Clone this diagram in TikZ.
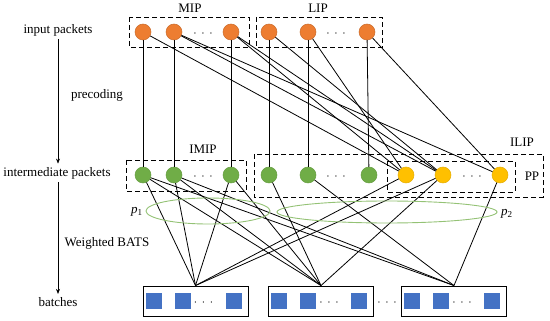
\documentclass[tikz,border=0pt]{standalone}
\usepackage{fontspec}
\setmainfont{Liberation Serif}
\usetikzlibrary{arrows.meta, positioning, calc}
\definecolor{PktOrange}{HTML}{ED7D31}
\definecolor{PktGreen}{HTML}{70AD47}
\definecolor{PktYellow}{HTML}{FFC000}
\definecolor{PktBlue}{HTML}{4472C4}
\tikzset{
  pkt/.style={circle, minimum size=16pt, inner sep=0pt, line width=0.5pt},
  inpkt/.style={pkt, fill=PktOrange, draw=PktOrange!85!black},
  midpkt/.style={pkt, fill=PktGreen, draw=PktGreen!90!black},
  parpkt/.style={pkt, fill=PktYellow, draw=PktYellow!90!black},
  symbox/.style={rectangle, minimum size=16pt, inner sep=0pt, fill=PktBlue},
  grpbox/.style={draw, dash pattern=on 5pt off 3pt, line width=0.9pt},
  batchbox/.style={draw, line width=0.9pt, minimum width=105pt, minimum height=30pt, inner sep=0pt},
  lbl/.style={font=\fontsize{13}{15}\selectfont},
  link/.style={line width=0.8pt},
  ring/.style={PktGreen!75, line width=0.9pt},
}
\newcommand{\pktdots}{$\cdot\,\cdot\,\cdot$}

\begin{document}
\begin{tikzpicture}[x=1pt, y=-1pt]
\useasboundingbox (0,0) rectangle (550,321);
% --- Left column ---
\node[lbl] (inp) at (58,30) {input packets};
\node[lbl] (intp) at (57,173) {intermediate packets};
\node[lbl] (bat) at (58,302) {batches};
\node[lbl] (pre) at (97,95) {precoding};
\node[lbl] (wbats) at (107,243) {Weighted BATS};
\draw[-{Stealth[length=5pt, width=4pt]}, line width=0.6pt] (inp.south) -- (inp.south |- intp.north);
\draw[-{Stealth[length=5pt, width=4pt]}, line width=0.6pt] (inp.south |- intp.south) -- (inp.south |- bat.north);
% --- Group boxes ---
\draw[grpbox] (129,17) rectangle (249,47);
\draw[grpbox] (256,17) rectangle (382,47);
\draw[grpbox] (126,160) rectangle (246,191);
\draw[grpbox] (254,154) rectangle (543,197);
\draw[grpbox] (387,161) rectangle (515,192);
\node[lbl] (mip) at (190,8) {MIP};
\node[lbl] (lip) at (318,8) {LIP};
\node[lbl] (imip) at (203,149) {IMIP};
\node[lbl] (ilip) at (522,142) {ILIP};
\node[lbl] (pp) at (532,176) {PP};
% --- Packets ---
\foreach \n/\x in {m1/143, m2/174, m3/231, l1/269, l2/308, l3/367}
  \node[inpkt] (\n) at (\x,32) {};
\foreach \n/\x in {g1/143, g2/174, g3/231, g4/269, g5/308, g6/369}
  \node[midpkt] (\n) at (\x,175) {};
\foreach \n/\x in {y1/406, y2/443, y3/500}
  \node[parpkt] (\n) at (\x,175) {};
\foreach \n/\x/\y in {dm/203/34, dl/336/34, dg/203/177, dh/336/177, dy/472/177}
  \node[lbl] (\n) at (\x,\y) {\pktdots};
% --- Batches ---
\foreach \n/\x in {b1/195.5, b2/321, b3/454} {
  \node[batchbox] (\n) at (\x,301) {};
  \foreach \dx in {-42, -13, 38}
    \node[symbox] at ($(\n.center)+(\dx,0)$) {};
  \node[lbl] at ($(\n.center)+(8,2)$) {\pktdots};
}
\node[lbl] (db) at (387,303) {\pktdots};
% --- Precoding links ---
\foreach \a/\b in {m1/g1, m2/g2, m3/g3, l1/g4, l2/g5, l3/g6,
                   m1/y1, m2/y2, m2/y3, m3/y1, m3/y2, l1/y2, l2/y1, l3/y3}
  \draw[link] (\a) -- (\b);
% --- Weighted BATS links ---
\foreach \a/\b in {g1/b1, g2/b1, g3/b1, y1/b1, y2/b1,
                   g1/b2, g2/b2, g3/b2, g4/b2, y2/b2,
                   g1/b3, g2/b3, g5/b3, y3/b3}
  \draw[link] (\a) -- (\b.north);
% --- Degree distributions ---
\draw[ring] (208,211) ellipse [x radius=62pt, y radius=13pt];
\draw[ring] (387,212) ellipse [x radius=110pt, y radius=11pt];
\node[lbl] (p1) at (137,212) {\textit{p}\textsubscript{1}};
\node[lbl] (p2) at (507,214) {\textit{p}\textsubscript{2}};
\end{tikzpicture}
\end{document}
